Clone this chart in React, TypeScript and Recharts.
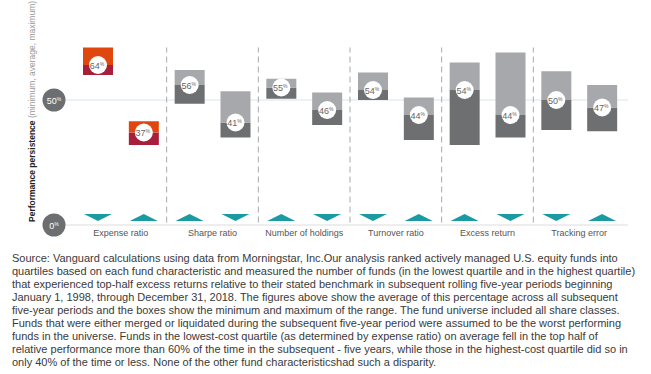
import React from 'react';
import { ComposedChart, Bar, XAxis, YAxis, ReferenceLine, LabelList, Cell, CartesianGrid } from 'recharts';

// six fund characteristics, two quartile boxes each (lowest / highest)
const characteristics = ['Expense ratio', 'Sharpe ratio', 'Number of holdings', 'Turnover ratio', 'Excess return', 'Tracking error'];
const quartileArrow = ['down', 'up', 'up', 'down', 'up', 'down', 'down', 'up', 'up', 'down', 'down', 'up'];
const boxMin = [60, 32, 48.5, 35, 50.5, 40, 50, 34, 32, 35, 38, 37.5];
const boxAvg = [64, 37, 56, 41, 55, 46, 54, 44, 54, 44, 50, 47];
const boxMax = [71, 41.5, 62, 53.5, 58.5, 53, 61, 51, 65, 69, 61.5, 56];
const yTicks = [0, 50];
const midLine = [50];

const data = boxAvg.map((avg, i) => ({
  pos: i + 0.5,
  group: Math.floor(i / 2),
  avg,
  base: boxMin[i],
  lower: avg - boxMin[i],
  upper: boxMax[i] - avg,
}));

const xTicks = characteristics.flatMap((_, k) => [2 * k + 0.5, 2 * k + 1, 2 * k + 1.5]);
const separators = characteristics.slice(1).map((_, k) => 2 * (k + 1));

const FONT = '"Liberation Sans", Arial, sans-serif';
const DARK = '#6e6f71';
const LIGHT = '#a7a8ab';
const HL_DARK = '#a71f3b';
const HL_LIGHT = '#e0470f';
const TEAL = '#1a9ba1';

const XTick = (props: any) => {
  const { x, y, payload } = props;
  const v = payload.value;
  if (Number.isInteger(v)) {
    return (
      <text x={x} y={y} dy={3} textAnchor="middle" fontSize={9} fill="#555" fontFamily={FONT}>
        {characteristics[(v - 1) / 2]}
      </text>
    );
  }
  const dir = quartileArrow[Math.floor(v)];
  const top = y - 19;
  const bot = y - 12;
  const w = 14;
  const pts = dir === 'down'
    ? `${x - w},${top} ${x + w},${top} ${x},${bot}`
    : `${x - w},${bot} ${x + w},${bot} ${x},${top}`;
  return <polygon points={pts} fill={TEAL} />;
};

const YTick = (props: any) => {
  const { x, y, payload } = props;
  const cx = x - 3;
  return (
    <g>
      <circle cx={cx} cy={y} r={11.5} fill="#6d6e70" />
      <text x={cx} y={y} dy={3.5} textAnchor="middle" fontSize={9} fill="#fff" fontFamily={FONT}>
        {payload.value}
        <tspan fontSize={5} dy={-3}>%</tspan>
      </text>
    </g>
  );
};

// circle sits on the boundary between the two halves (bottom of the upper segment)
const AvgLabel = (props: any) => {
  const { x, y, width, height, value } = props;
  const cx = x + width / 2;
  const cy = y + height;
  return (
    <g>
      <circle cx={cx} cy={cy} r={9} fill="#fff" />
      <text x={cx - 1} y={cy} dy={3.5} textAnchor="middle" fontSize={9} fill="#666" fontFamily={FONT}>
        {value}
        <tspan fontSize={5} dy={-3}>%</tspan>
      </text>
    </g>
  );
};

const AxisTitle = (props: any) => {
  const { viewBox } = props;
  const tx = 32;
  const ty = viewBox.y + viewBox.height - 3;
  return (
    <text transform={`rotate(-90 ${tx} ${ty})`} x={tx} y={ty} dy={3} textAnchor="start" fontSize={8.5} fontFamily={FONT}>
      <tspan fontWeight="bold" fill="#222">Performance persistence</tspan>
      <tspan fill="#999"> (minimum, average, maximum)</tspan>
    </text>
  );
};

const footnote = [
  'Source: Vanguard calculations using data from Morningstar, Inc.Our analysis ranked actively managed U.S. equity funds into',
  'quartiles based on each fund characteristic and measured the number of funds (in the lowest quartile and in the highest quartile)',
  'that experienced top-half excess returns relative to their stated benchmark in subsequent rolling five-year periods beginning',
  'January 1, 1998, through December 31, 2018. The figures above show the average of this percentage across all subsequent',
  'five-year periods and the boxes show the minimum and maximum of the range. The fund universe included all share classes.',
  'Funds that were either merged or liquidated during the subsequent five-year period were assumed to be the worst performing',
  'funds in the universe. Funds in the lowest-cost quartile (as determined by expense ratio) on average fell in the top half of',
  'relative performance more than 60% of the time in the subsequent - five years, while those in the highest-cost quartile did so in',
  'only 40% of the time or less. None of the other fund characteristicshad such a disparity.',
];

export default function App() {
  return (
    <div style={{ position: 'absolute', left: 0, top: 0, width: 651, height: 374, background: '#fff' }}>
      <ComposedChart width={651} height={245} data={data} margin={{ top: 25, right: 23, left: 0, bottom: 0 }}>
        <CartesianGrid vertical={false} horizontalValues={midLine} stroke="#d4e6ea" />
        {separators.map((s) => (
          <ReferenceLine
            key={s}
            segment={[{ x: s, y: 1 }, { x: s, y: 71 }]}
            stroke="#a9a9a9"
            strokeDasharray="6 4"
          />
        ))}
        <XAxis
          type="number"
          dataKey="pos"
          domain={[0, 12]}
          ticks={xTicks}
          interval={0}
          padding={{ left: 10, right: 3 }}
          height={20}
          axisLine={{ stroke: '#dcdcdc' }}
          tickLine={false}
          tick={<XTick />}
        />
        <YAxis
          domain={[0, 80]}
          ticks={yTicks}
          width={65}
          axisLine={false}
          tickLine={false}
          tick={<YTick />}
          label={<AxisTitle />}
        />
        <Bar dataKey="base" stackId="box" fill="transparent" barSize={30} isAnimationActive={false} />
        <Bar dataKey="lower" stackId="box" barSize={30} isAnimationActive={false}>
          {data.map((d, i) => (
            <Cell key={i} fill={d.group === 0 ? HL_DARK : DARK} />
          ))}
        </Bar>
        <Bar dataKey="upper" stackId="box" barSize={30} isAnimationActive={false}>
          {data.map((d, i) => (
            <Cell key={i} fill={d.group === 0 ? HL_LIGHT : LIGHT} />
          ))}
          <LabelList dataKey="avg" content={<AvgLabel />} />
        </Bar>
      </ComposedChart>
      <div
        style={{
          position: 'absolute',
          left: 12,
          top: 252,
          fontFamily: FONT,
          fontSize: 11,
          lineHeight: '13px',
          color: '#3a3a3a',
          whiteSpace: 'nowrap',
        }}
      >
        {footnote.map((l, i) => (
          <div key={i}>{l}</div>
        ))}
      </div>
    </div>
  );
}
